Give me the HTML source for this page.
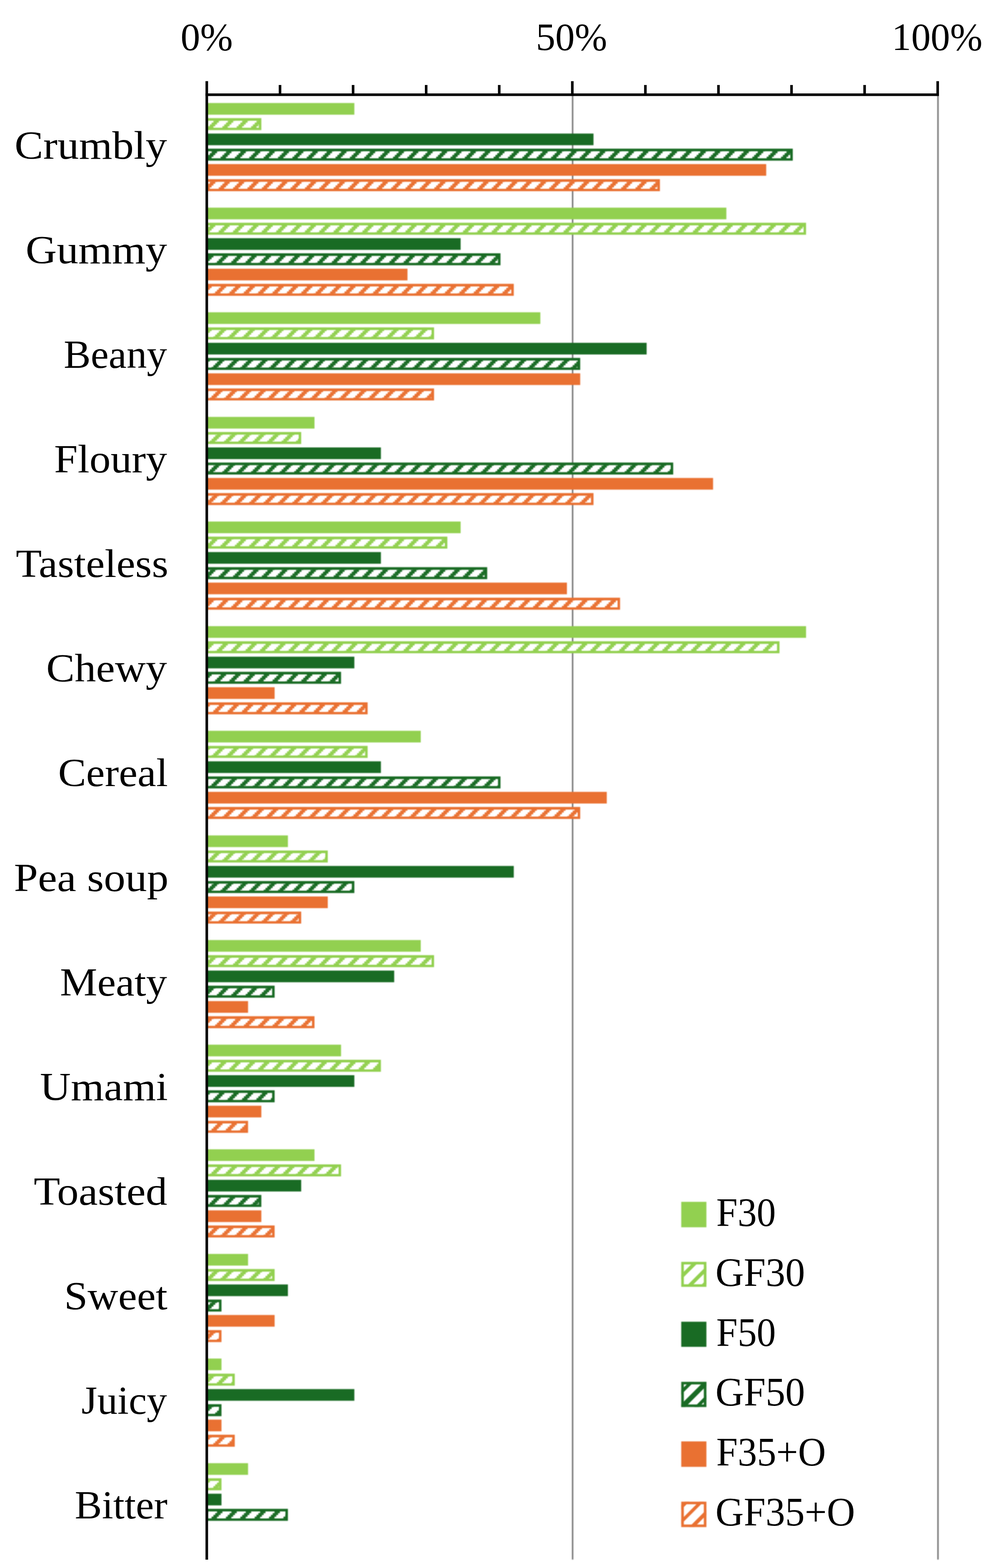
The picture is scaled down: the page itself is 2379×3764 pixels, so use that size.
<!DOCTYPE html>
<html lang="en">
<head>
<meta charset="utf-8">
<title>Sensory attribute frequency chart</title>
<style>
html,body{margin:0;padding:0;background:#fff;}
body{width:2379px;height:3764px;overflow:hidden;}
svg{display:block;}
.soft{filter:blur(0.8px);}
.crisp{filter:blur(0.3px);}
text{font-family:"Liberation Serif",serif;fill:#000;}
</style>
</head>
<body>
<svg width="2379" height="3764" viewBox="0 0 2379 3764">
<defs>
<pattern id="pLG" patternUnits="userSpaceOnUse" x="508.00" y="350.46" width="34.500" height="34.500">
<rect x="-1" y="-1" width="36.500" height="36.500" fill="#fff"/>
<g fill="#92D050">
<rect x="12.938" y="-1.000" width="12.938" height="5.463"/>
<rect x="8.625" y="4.162" width="12.938" height="4.613"/>
<rect x="4.312" y="8.475" width="12.938" height="4.613"/>
<rect x="-1.000" y="12.787" width="13.938" height="4.612"/>
<rect x="30.188" y="17.100" width="5.312" height="4.612"/><rect x="-1.000" y="17.100" width="9.625" height="4.612"/>
<rect x="25.875" y="21.413" width="9.625" height="4.612"/><rect x="-1.000" y="21.413" width="5.312" height="4.612"/>
<rect x="21.562" y="25.725" width="13.938" height="4.612"/>
<rect x="17.250" y="30.038" width="12.938" height="5.462"/>
</g>
</pattern>
<pattern id="pDG" patternUnits="userSpaceOnUse" x="508.00" y="350.46" width="34.500" height="34.500">
<rect x="-1" y="-1" width="36.500" height="36.500" fill="#fff"/>
<g fill="#196B24">
<rect x="12.938" y="-1.000" width="12.938" height="5.463"/>
<rect x="8.625" y="4.162" width="12.938" height="4.613"/>
<rect x="4.312" y="8.475" width="12.938" height="4.613"/>
<rect x="-1.000" y="12.787" width="13.938" height="4.612"/>
<rect x="30.188" y="17.100" width="5.312" height="4.612"/><rect x="-1.000" y="17.100" width="9.625" height="4.612"/>
<rect x="25.875" y="21.413" width="9.625" height="4.612"/><rect x="-1.000" y="21.413" width="5.312" height="4.612"/>
<rect x="21.562" y="25.725" width="13.938" height="4.612"/>
<rect x="17.250" y="30.038" width="12.938" height="5.462"/>
</g>
</pattern>
<pattern id="pOR" patternUnits="userSpaceOnUse" x="508.00" y="350.46" width="34.500" height="34.500">
<rect x="-1" y="-1" width="36.500" height="36.500" fill="#fff"/>
<g fill="#E97132">
<rect x="12.938" y="-1.000" width="12.938" height="5.463"/>
<rect x="8.625" y="4.162" width="12.938" height="4.613"/>
<rect x="4.312" y="8.475" width="12.938" height="4.613"/>
<rect x="-1.000" y="12.787" width="13.938" height="4.612"/>
<rect x="30.188" y="17.100" width="5.312" height="4.612"/><rect x="-1.000" y="17.100" width="9.625" height="4.612"/>
<rect x="25.875" y="21.413" width="9.625" height="4.612"/><rect x="-1.000" y="21.413" width="5.312" height="4.612"/>
<rect x="21.562" y="25.725" width="13.938" height="4.612"/>
<rect x="17.250" y="30.038" width="12.938" height="5.462"/>
</g>
</pattern>
</defs>
<rect width="2379" height="3764" fill="#fff"/>
<g class="soft">
<g stroke="#6e6e6e" stroke-width="3.3">
<line x1="1374.60" y1="227.40" x2="1374.60" y2="3743.80"/>
<line x1="2251.70" y1="227.40" x2="2251.70" y2="3743.80"/>
</g>
<g id="bars">
<rect x="496.80" y="247.30" width="353.84" height="28.00" fill="#92D050"/>
<rect x="496.80" y="283.55" width="130.58" height="28.80" fill="#92D050"/><rect x="499.40" y="289.85" width="121.98" height="16.80" fill="url(#pLG)"/>
<rect x="496.80" y="320.60" width="927.94" height="28.00" fill="#196B24"/>
<rect x="496.80" y="356.85" width="1406.36" height="28.80" fill="#196B24"/><rect x="499.40" y="363.15" width="1397.76" height="16.80" fill="url(#pDG)"/>
<rect x="496.80" y="393.90" width="1342.57" height="28.00" fill="#E97132"/>
<rect x="496.80" y="430.15" width="1087.41" height="28.80" fill="#E97132"/><rect x="499.40" y="436.45" width="1078.81" height="16.80" fill="url(#pOR)"/>
<rect x="496.80" y="498.46" width="1246.89" height="28.00" fill="#92D050"/>
<rect x="496.80" y="534.71" width="1438.25" height="28.80" fill="#92D050"/><rect x="499.40" y="541.01" width="1429.65" height="16.80" fill="url(#pLG)"/>
<rect x="496.80" y="571.76" width="609.00" height="28.00" fill="#196B24"/>
<rect x="496.80" y="608.01" width="704.68" height="28.80" fill="#196B24"/><rect x="499.40" y="614.31" width="696.08" height="16.80" fill="url(#pDG)"/>
<rect x="496.80" y="645.06" width="481.42" height="28.00" fill="#E97132"/>
<rect x="496.80" y="681.31" width="736.57" height="28.80" fill="#E97132"/><rect x="499.40" y="687.61" width="727.97" height="16.80" fill="url(#pOR)"/>
<rect x="496.80" y="749.62" width="800.36" height="28.00" fill="#92D050"/>
<rect x="496.80" y="785.87" width="545.21" height="28.80" fill="#92D050"/><rect x="499.40" y="792.17" width="536.61" height="16.80" fill="url(#pLG)"/>
<rect x="496.80" y="822.92" width="1055.52" height="28.00" fill="#196B24"/>
<rect x="496.80" y="859.17" width="896.05" height="28.80" fill="#196B24"/><rect x="499.40" y="865.47" width="887.45" height="16.80" fill="url(#pDG)"/>
<rect x="496.80" y="896.22" width="896.05" height="28.00" fill="#E97132"/>
<rect x="496.80" y="932.47" width="545.21" height="28.80" fill="#E97132"/><rect x="499.40" y="938.77" width="536.61" height="16.80" fill="url(#pOR)"/>
<rect x="496.80" y="1000.78" width="258.16" height="28.00" fill="#92D050"/>
<rect x="496.80" y="1037.03" width="226.26" height="28.80" fill="#92D050"/><rect x="499.40" y="1043.33" width="217.66" height="16.80" fill="url(#pLG)"/>
<rect x="496.80" y="1074.08" width="417.63" height="28.00" fill="#196B24"/>
<rect x="496.80" y="1110.33" width="1119.31" height="28.80" fill="#196B24"/><rect x="499.40" y="1116.63" width="1110.71" height="16.80" fill="url(#pDG)"/>
<rect x="496.80" y="1147.38" width="1214.99" height="28.00" fill="#E97132"/>
<rect x="496.80" y="1183.63" width="927.94" height="28.80" fill="#E97132"/><rect x="499.40" y="1189.93" width="919.34" height="16.80" fill="url(#pOR)"/>
<rect x="496.80" y="1251.94" width="609.00" height="28.00" fill="#92D050"/>
<rect x="496.80" y="1288.19" width="577.10" height="28.80" fill="#92D050"/><rect x="499.40" y="1294.49" width="568.50" height="16.80" fill="url(#pLG)"/>
<rect x="496.80" y="1325.24" width="417.63" height="28.00" fill="#196B24"/>
<rect x="496.80" y="1361.49" width="672.79" height="28.80" fill="#196B24"/><rect x="499.40" y="1367.79" width="664.19" height="16.80" fill="url(#pDG)"/>
<rect x="496.80" y="1398.54" width="864.15" height="28.00" fill="#E97132"/>
<rect x="496.80" y="1434.79" width="991.73" height="28.80" fill="#E97132"/><rect x="499.40" y="1441.09" width="983.13" height="16.80" fill="url(#pOR)"/>
<rect x="496.80" y="1503.10" width="1438.25" height="28.00" fill="#92D050"/>
<rect x="496.80" y="1539.35" width="1374.47" height="28.80" fill="#92D050"/><rect x="499.40" y="1545.65" width="1365.87" height="16.80" fill="url(#pLG)"/>
<rect x="496.80" y="1576.40" width="353.84" height="28.00" fill="#196B24"/>
<rect x="496.80" y="1612.65" width="321.95" height="28.80" fill="#196B24"/><rect x="499.40" y="1618.95" width="313.35" height="16.80" fill="url(#pDG)"/>
<rect x="496.80" y="1649.70" width="162.47" height="28.00" fill="#E97132"/>
<rect x="496.80" y="1685.95" width="385.73" height="28.80" fill="#E97132"/><rect x="499.40" y="1692.25" width="377.13" height="16.80" fill="url(#pOR)"/>
<rect x="496.80" y="1754.26" width="513.31" height="28.00" fill="#92D050"/>
<rect x="496.80" y="1790.51" width="385.73" height="28.80" fill="#92D050"/><rect x="499.40" y="1796.81" width="377.13" height="16.80" fill="url(#pLG)"/>
<rect x="496.80" y="1827.56" width="417.63" height="28.00" fill="#196B24"/>
<rect x="496.80" y="1863.81" width="704.68" height="28.80" fill="#196B24"/><rect x="499.40" y="1870.11" width="696.08" height="16.80" fill="url(#pDG)"/>
<rect x="496.80" y="1900.86" width="959.84" height="28.00" fill="#E97132"/>
<rect x="496.80" y="1937.11" width="896.05" height="28.80" fill="#E97132"/><rect x="499.40" y="1943.41" width="887.45" height="16.80" fill="url(#pOR)"/>
<rect x="496.80" y="2005.42" width="194.37" height="28.00" fill="#92D050"/>
<rect x="496.80" y="2041.67" width="290.05" height="28.80" fill="#92D050"/><rect x="499.40" y="2047.97" width="281.45" height="16.80" fill="url(#pLG)"/>
<rect x="496.80" y="2078.72" width="736.57" height="28.00" fill="#196B24"/>
<rect x="496.80" y="2114.97" width="353.84" height="28.80" fill="#196B24"/><rect x="499.40" y="2121.27" width="345.24" height="16.80" fill="url(#pDG)"/>
<rect x="496.80" y="2152.02" width="290.05" height="28.00" fill="#E97132"/>
<rect x="496.80" y="2188.27" width="226.26" height="28.80" fill="#E97132"/><rect x="499.40" y="2194.57" width="217.66" height="16.80" fill="url(#pOR)"/>
<rect x="496.80" y="2256.58" width="513.31" height="28.00" fill="#92D050"/>
<rect x="496.80" y="2292.83" width="545.21" height="28.80" fill="#92D050"/><rect x="499.40" y="2299.13" width="536.61" height="16.80" fill="url(#pLG)"/>
<rect x="496.80" y="2329.88" width="449.52" height="28.00" fill="#196B24"/>
<rect x="496.80" y="2366.13" width="162.47" height="28.80" fill="#196B24"/><rect x="499.40" y="2372.43" width="153.87" height="16.80" fill="url(#pDG)"/>
<rect x="496.80" y="2403.18" width="98.68" height="28.00" fill="#E97132"/>
<rect x="496.80" y="2439.43" width="258.16" height="28.80" fill="#E97132"/><rect x="499.40" y="2445.73" width="249.56" height="16.80" fill="url(#pOR)"/>
<rect x="496.80" y="2507.74" width="321.95" height="28.00" fill="#92D050"/>
<rect x="496.80" y="2543.99" width="417.63" height="28.80" fill="#92D050"/><rect x="499.40" y="2550.29" width="409.03" height="16.80" fill="url(#pLG)"/>
<rect x="496.80" y="2581.04" width="353.84" height="28.00" fill="#196B24"/>
<rect x="496.80" y="2617.29" width="162.47" height="28.80" fill="#196B24"/><rect x="499.40" y="2623.59" width="153.87" height="16.80" fill="url(#pDG)"/>
<rect x="496.80" y="2654.34" width="130.58" height="28.00" fill="#E97132"/>
<rect x="496.80" y="2690.59" width="98.68" height="28.80" fill="#E97132"/><rect x="499.40" y="2696.89" width="90.08" height="16.80" fill="url(#pOR)"/>
<rect x="496.80" y="2758.90" width="258.16" height="28.00" fill="#92D050"/>
<rect x="496.80" y="2795.15" width="321.95" height="28.80" fill="#92D050"/><rect x="499.40" y="2801.45" width="313.35" height="16.80" fill="url(#pLG)"/>
<rect x="496.80" y="2832.20" width="226.26" height="28.00" fill="#196B24"/>
<rect x="496.80" y="2868.45" width="130.58" height="28.80" fill="#196B24"/><rect x="499.40" y="2874.75" width="121.98" height="16.80" fill="url(#pDG)"/>
<rect x="496.80" y="2905.50" width="130.58" height="28.00" fill="#E97132"/>
<rect x="496.80" y="2941.75" width="162.47" height="28.80" fill="#E97132"/><rect x="499.40" y="2948.05" width="153.87" height="16.80" fill="url(#pOR)"/>
<rect x="496.80" y="3010.06" width="98.68" height="28.00" fill="#92D050"/>
<rect x="496.80" y="3046.31" width="162.47" height="28.80" fill="#92D050"/><rect x="499.40" y="3052.61" width="153.87" height="16.80" fill="url(#pLG)"/>
<rect x="496.80" y="3083.36" width="194.37" height="28.00" fill="#196B24"/>
<rect x="496.80" y="3119.61" width="34.89" height="28.80" fill="#196B24"/><rect x="499.40" y="3125.91" width="26.29" height="16.80" fill="url(#pDG)"/>
<rect x="496.80" y="3156.66" width="162.47" height="28.00" fill="#E97132"/>
<rect x="496.80" y="3192.91" width="34.89" height="28.80" fill="#E97132"/><rect x="499.40" y="3199.21" width="26.29" height="16.80" fill="url(#pOR)"/>
<rect x="496.80" y="3261.22" width="34.89" height="28.00" fill="#92D050"/>
<rect x="496.80" y="3297.47" width="66.79" height="28.80" fill="#92D050"/><rect x="499.40" y="3303.77" width="58.19" height="16.80" fill="url(#pLG)"/>
<rect x="496.80" y="3334.52" width="353.84" height="28.00" fill="#196B24"/>
<rect x="496.80" y="3370.77" width="34.89" height="28.80" fill="#196B24"/><rect x="499.40" y="3377.07" width="26.29" height="16.80" fill="url(#pDG)"/>
<rect x="496.80" y="3407.82" width="34.89" height="28.00" fill="#E97132"/>
<rect x="496.80" y="3444.07" width="66.79" height="28.80" fill="#E97132"/><rect x="499.40" y="3450.37" width="58.19" height="16.80" fill="url(#pOR)"/>
<rect x="496.80" y="3512.38" width="98.68" height="28.00" fill="#92D050"/>
<rect x="496.80" y="3548.63" width="34.89" height="28.80" fill="#92D050"/><rect x="499.40" y="3554.93" width="26.29" height="16.80" fill="url(#pLG)"/>
<rect x="496.80" y="3585.68" width="34.89" height="28.00" fill="#196B24"/>
<rect x="496.80" y="3621.93" width="194.37" height="28.80" fill="#196B24"/><rect x="499.40" y="3628.23" width="185.77" height="16.80" fill="url(#pDG)"/>
</g>
<g id="swatches">
<rect x="1635.40" y="2885.00" width="60.40" height="61.10" fill="#92D050"/>
<clipPath id="lc1"><rect x="1635.40" y="3029.10" width="60.40" height="60.00"/></clipPath>
<g clip-path="url(#lc1)" fill="#92D050">
<polygon points="1633.40,3061.05 1697.80,2996.65 1697.80,3009.13 1633.40,3073.53"/>
<polygon points="1633.40,3101.78 1697.80,3037.38 1697.80,3049.87 1633.40,3114.27"/>
<polygon points="1633.40,3134.63 1697.80,3070.23 1697.80,3080.75 1633.40,3145.15"/>
</g>
<rect x="1638.50" y="3032.20" width="54.20" height="53.80" fill="none" stroke="#92D050" stroke-width="6.20"/>
<rect x="1635.40" y="3172.80" width="60.40" height="60.30" fill="#196B24"/>
<clipPath id="lc3"><rect x="1635.40" y="3317.10" width="60.40" height="60.50"/></clipPath>
<g clip-path="url(#lc3)" fill="#196B24">
<polygon points="1633.40,3338.53 1697.80,3274.13 1697.80,3285.30 1633.40,3349.70"/>
<polygon points="1633.40,3372.70 1697.80,3308.30 1697.80,3325.05 1633.40,3389.45"/>
<polygon points="1633.40,3411.14 1697.80,3346.74 1697.80,3357.58 1633.40,3421.98"/>
</g>
<rect x="1638.50" y="3320.20" width="54.20" height="54.30" fill="none" stroke="#196B24" stroke-width="6.20"/>
<rect x="1635.40" y="3460.10" width="60.40" height="61.10" fill="#E97132"/>
<clipPath id="lc5"><rect x="1635.40" y="3604.80" width="60.40" height="61.00"/></clipPath>
<g clip-path="url(#lc5)" fill="#E97132">
<polygon points="1633.40,3614.71 1697.80,3550.31 1697.80,3561.48 1633.40,3625.88"/>
<polygon points="1633.40,3649.53 1697.80,3585.13 1697.80,3596.30 1633.40,3660.70"/>
<polygon points="1633.40,3686.65 1697.80,3622.25 1697.80,3635.06 1633.40,3699.46"/>
</g>
<rect x="1638.50" y="3607.90" width="54.20" height="54.80" fill="none" stroke="#E97132" stroke-width="6.20"/>
</g>
</g>
<g class="crisp">
<g stroke="#000" stroke-width="6.2" fill="none">
<line x1="496.40" y1="194.80" x2="496.40" y2="3744.10"/>
<line x1="493.40" y1="227.40" x2="2254.00" y2="227.40"/>
<line x1="672.22" y1="204.00" x2="672.22" y2="227.40"/>
<line x1="847.64" y1="204.00" x2="847.64" y2="227.40"/>
<line x1="1023.06" y1="204.00" x2="1023.06" y2="227.40"/>
<line x1="1198.48" y1="204.00" x2="1198.48" y2="227.40"/>
<line x1="1373.90" y1="194.80" x2="1373.90" y2="227.40"/>
<line x1="1549.32" y1="204.00" x2="1549.32" y2="227.40"/>
<line x1="1724.74" y1="204.00" x2="1724.74" y2="227.40"/>
<line x1="1900.16" y1="204.00" x2="1900.16" y2="227.40"/>
<line x1="2075.58" y1="204.00" x2="2075.58" y2="227.40"/>
<line x1="2251.00" y1="194.80" x2="2251.00" y2="227.40"/>
</g>
<g font-size="93">
<text x="433.4" y="120.3" textLength="125.6" lengthAdjust="spacingAndGlyphs">0%</text>
<text x="1286.4" y="120.3" textLength="171.2" lengthAdjust="spacingAndGlyphs">50%</text>
<text x="2140.7" y="120.3" textLength="217.9" lengthAdjust="spacingAndGlyphs">100%</text>
</g>
<g font-size="96">
<text x="35.0" y="380.7" textLength="366.0" lengthAdjust="spacingAndGlyphs">Crumbly</text>
<text x="61.5" y="631.8" textLength="339.5" lengthAdjust="spacingAndGlyphs">Gummy</text>
<text x="153.0" y="882.9" textLength="248.0" lengthAdjust="spacingAndGlyphs">Beany</text>
<text x="130.0" y="1134.1" textLength="271.0" lengthAdjust="spacingAndGlyphs">Floury</text>
<text x="38.0" y="1385.2" textLength="366.0" lengthAdjust="spacingAndGlyphs">Tasteless</text>
<text x="111.0" y="1636.3" textLength="290.0" lengthAdjust="spacingAndGlyphs">Chewy</text>
<text x="139.5" y="1887.4" textLength="263.5" lengthAdjust="spacingAndGlyphs">Cereal</text>
<text x="33.5" y="2138.5" textLength="371.0" lengthAdjust="spacingAndGlyphs">Pea soup</text>
<text x="144.0" y="2389.7" textLength="257.0" lengthAdjust="spacingAndGlyphs">Meaty</text>
<text x="96.0" y="2640.8" textLength="307.0" lengthAdjust="spacingAndGlyphs">Umami</text>
<text x="81.0" y="2891.9" textLength="320.5" lengthAdjust="spacingAndGlyphs">Toasted</text>
<text x="153.9" y="3143.0" textLength="248.1" lengthAdjust="spacingAndGlyphs">Sweet</text>
<text x="195.5" y="3394.1" textLength="205.5" lengthAdjust="spacingAndGlyphs">Juicy</text>
<text x="179.5" y="3645.3" textLength="222.5" lengthAdjust="spacingAndGlyphs">Bitter</text>
</g>
<g font-size="97">
<text x="1719.5" y="2943.0" textLength="143.1" lengthAdjust="spacingAndGlyphs">F30</text>
<text x="1717.4" y="3086.8" textLength="215.1" lengthAdjust="spacingAndGlyphs">GF30</text>
<text x="1719.5" y="3230.6" textLength="143.1" lengthAdjust="spacingAndGlyphs">F50</text>
<text x="1717.4" y="3374.4" textLength="215.1" lengthAdjust="spacingAndGlyphs">GF50</text>
<text x="1719.5" y="3518.2" textLength="263.1" lengthAdjust="spacingAndGlyphs">F35+O</text>
<text x="1717.5" y="3662.0" textLength="335.1" lengthAdjust="spacingAndGlyphs">GF35+O</text>
</g>
</g>
</svg>
</body>
</html>
